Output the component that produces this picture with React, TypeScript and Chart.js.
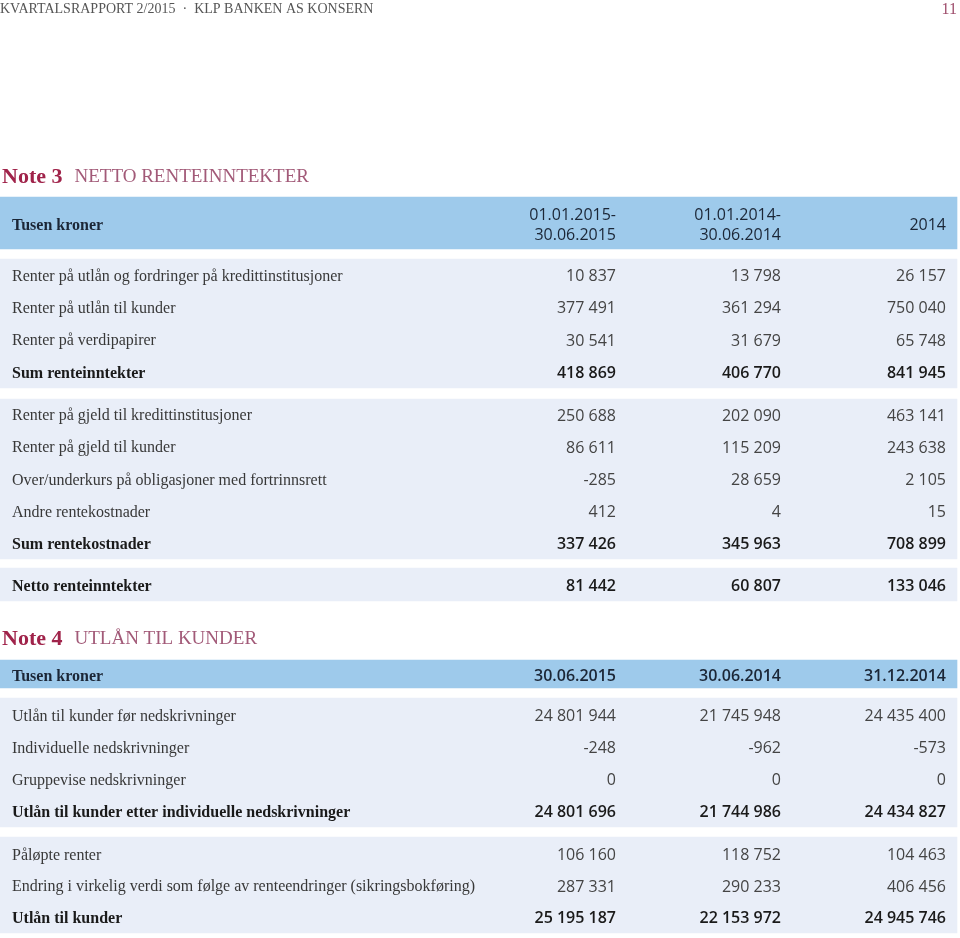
import React, { useEffect, useRef } from "react";
import { Chart, registerables } from "chart.js";

Chart.register(...registerables);

// ---------- data ----------
const pageHeader = "KVARTALSRAPPORT 2/2015  ·  KLP BANKEN AS KONSERN";
const pageNumber = "11";

const note3Title = ["Note 3", "NETTO RENTEINNTEKTER"];
const note3Unit = "Tusen kroner";
const note3Headers = [["01.01.2015-", "30.06.2015"], ["01.01.2014-", "30.06.2014"], ["2014"]];

const incomeLabels = [
  "Renter på utlån og fordringer på kredittinstitusjoner",
  "Renter på utlån til kunder",
  "Renter på verdipapirer",
  "Sum renteinntekter",
];
const income2015H1 = [10837, 377491, 30541, 418869];
const income2014H1 = [13798, 361294, 31679, 406770];
const income2014 = [26157, 750040, 65748, 841945];

const expenseLabels = [
  "Renter på gjeld til kredittinstitusjoner",
  "Renter på gjeld til kunder",
  "Over/underkurs på obligasjoner med fortrinnsrett",
  "Andre rentekostnader",
  "Sum rentekostnader",
];
const expense2015H1 = [250688, 86611, -285, 412, 337426];
const expense2014H1 = [202090, 115209, 28659, 4, 345963];
const expense2014 = [463141, 243638, 2105, 15, 708899];

const netLabels = ["Netto renteinntekter"];
const net2015H1 = [81442];
const net2014H1 = [60807];
const net2014 = [133046];

const note4Title = ["Note 4", "UTLÅN TIL KUNDER"];
const note4Unit = "Tusen kroner";
const note4Headers = [["30.06.2015"], ["30.06.2014"], ["31.12.2014"]];

const loanLabels = [
  "Utlån til kunder før nedskrivninger",
  "Individuelle nedskrivninger",
  "Gruppevise nedskrivninger",
  "Utlån til kunder etter individuelle nedskrivninger",
];
const loan20150630 = [24801944, -248, 0, 24801696];
const loan20140630 = [21745948, -962, 0, 21744986];
const loan20141231 = [24435400, -573, 0, 24434827];

const accrLabels = [
  "Påløpte renter",
  "Endring i virkelig verdi som følge av renteendringer (sikringsbokføring)",
  "Utlån til kunder",
];
const accr20150630 = [106160, 287331, 25195187];
const accr20140630 = [118752, 290233, 22153972];
const accr20141231 = [104463, 406456, 24945746];

// ---------- helpers ----------
const fmt = (v: number) => {
  const s = Math.abs(v).toString().replace(/\B(?=(\d{3})+(?!\d))/g, " ");
  return (v < 0 ? "-" : "") + s;
};

const W = 960;
const H = 938;

const BLUE = "#9ecaeb";
const LIGHT = "#e9eef8";
const SERIF = "'Liberation Serif', serif";
const SANS = "'Open Sans', sans-serif";
const DY = 1.5; // optical centring of text

type Group = {
  labels: string[];
  cols: number[][];
  top: number;
  first: number;
  step: number;
  height: number;
  boldLast: boolean;
};

const groups: Group[] = [
  { labels: incomeLabels, cols: [income2015H1, income2014H1, income2014], top: 259, first: 16, step: 32.3, height: 129, boldLast: true },
  { labels: expenseLabels, cols: [expense2015H1, expense2014H1, expense2014], top: 399, first: 15.5, step: 32.2, height: 160, boldLast: true },
  { labels: netLabels, cols: [net2015H1, net2014H1, net2014], top: 568, first: 17, step: 32, height: 33, boldLast: true },
  { labels: loanLabels, cols: [loan20150630, loan20140630, loan20141231], top: 698, first: 17, step: 32.1, height: 129, boldLast: true },
  { labels: accrLabels, cols: [accr20150630, accr20140630, accr20141231], top: 837, first: 17, step: 31.5, height: 96, boldLast: true },
];

const headerBands = [
  { top: 197, height: 52 },
  { top: 660, height: 28 },
];

const colRight = [616, 781, 946];

const tablePlugin = {
  id: "tableText",
  afterDatasetsDraw(chart: any) {
    const { ctx, scales } = chart;
    const sx = scales.x;
    const sy = scales.y;
    const text = (s: string, xv: number, yv: number, font: string, color: string, align: CanvasTextAlign = "left") => {
      ctx.save();
      ctx.font = font;
      ctx.fillStyle = color;
      ctx.textAlign = align;
      ctx.textBaseline = "middle";
      ctx.fillText(s, sx.getPixelForValue(xv), sy.getPixelForValue(yv));
      ctx.restore();
    };

    // page header
    text(pageHeader, 0, 9, `14px ${SERIF}`, "#555555");
    text(pageNumber, 957, 10, `16px ${SERIF}`, "#a0506e", "right");

    // note titles
    const title = (parts: string[], yv: number) => {
      ctx.save();
      ctx.font = `bold 22px ${SERIF}`;
      const w = ctx.measureText(parts[0]).width;
      ctx.restore();
      text(parts[0], 2, yv, `bold 22px ${SERIF}`, "#a0234a");
      text(parts[1], 2 + w + 12, yv, `19px ${SERIF}`, "#a25a78");
    };
    title(note3Title, 177);
    title(note4Title, 639);

    // header rows
    const hdrColor = "#1b2636";
    text(note3Unit, 12, 224 + DY, `bold 16px ${SERIF}`, hdrColor);
    note3Headers.forEach((lines, i) => {
      if (lines.length === 2) {
        text(lines[0], colRight[i], 214 + DY, `500 16px ${SANS}`, hdrColor, "right");
        text(lines[1], colRight[i], 234 + DY, `500 16px ${SANS}`, hdrColor, "right");
      } else {
        text(lines[0], colRight[i], 224 + DY, `500 16px ${SANS}`, hdrColor, "right");
      }
    });
    text(note4Unit, 12, 675 + DY, `bold 16px ${SERIF}`, hdrColor);
    note4Headers.forEach((lines, i) => {
      text(lines[0], colRight[i], 675 + DY, `600 16px ${SANS}`, hdrColor, "right");
    });

    // body rows
    groups.forEach((g) => {
      g.labels.forEach((lab, r) => {
        const yv = g.top + g.first + r * g.step + DY;
        const bold = g.boldLast && r === g.labels.length - 1;
        text(lab, 12, yv, `${bold ? "bold " : ""}16px ${SERIF}`, bold ? "#1a1a1a" : "#383838");
        g.cols.forEach((col, c) => {
          text(fmt(col[r]), colRight[c], yv, `${bold ? "600 " : ""}16px ${SANS}`, bold ? "#1a1a1a" : "#444444", "right");
        });
      });
    });
  },
};

export default function App() {
  const ref = useRef<HTMLCanvasElement | null>(null);

  useEffect(() => {
    if (!ref.current) return;
    const bands = [
      ...headerBands.map((b) => ({ ...b, color: BLUE })),
      ...groups.map((g) => ({ top: g.top, height: g.height, color: LIGHT })),
    ];
    const chart = new Chart(ref.current, {
      type: "bar",
      data: {
        datasets: bands.map((b) => ({
          data: [{ y: b.top + b.height / 2, x: [0, 957] }] as any,
          backgroundColor: b.color,
          barThickness: b.height,
          borderWidth: 0,
          grouped: false,
        })),
      },
      options: {
        indexAxis: "y",
        animation: false,
        responsive: false,
        devicePixelRatio: 1,
        layout: { padding: 0 },
        events: [],
        scales: {
          x: { type: "linear", min: 0, max: W, display: false, offset: false, grace: 0 },
          y: { type: "linear", min: 0, max: H, reverse: true, display: false, offset: false, grace: 0 },
        },
        plugins: {
          legend: { display: false },
          tooltip: { enabled: false },
          title: { display: false },
        },
      },
      plugins: [tablePlugin],
    } as any);
    return () => chart.destroy();
  }, []);

  return (
    <div style={{ position: "absolute", left: 0, top: 0, width: W, height: H, background: "#ffffff" }}>
      <canvas ref={ref} width={W} height={H} style={{ display: "block" }} />
    </div>
  );
}
